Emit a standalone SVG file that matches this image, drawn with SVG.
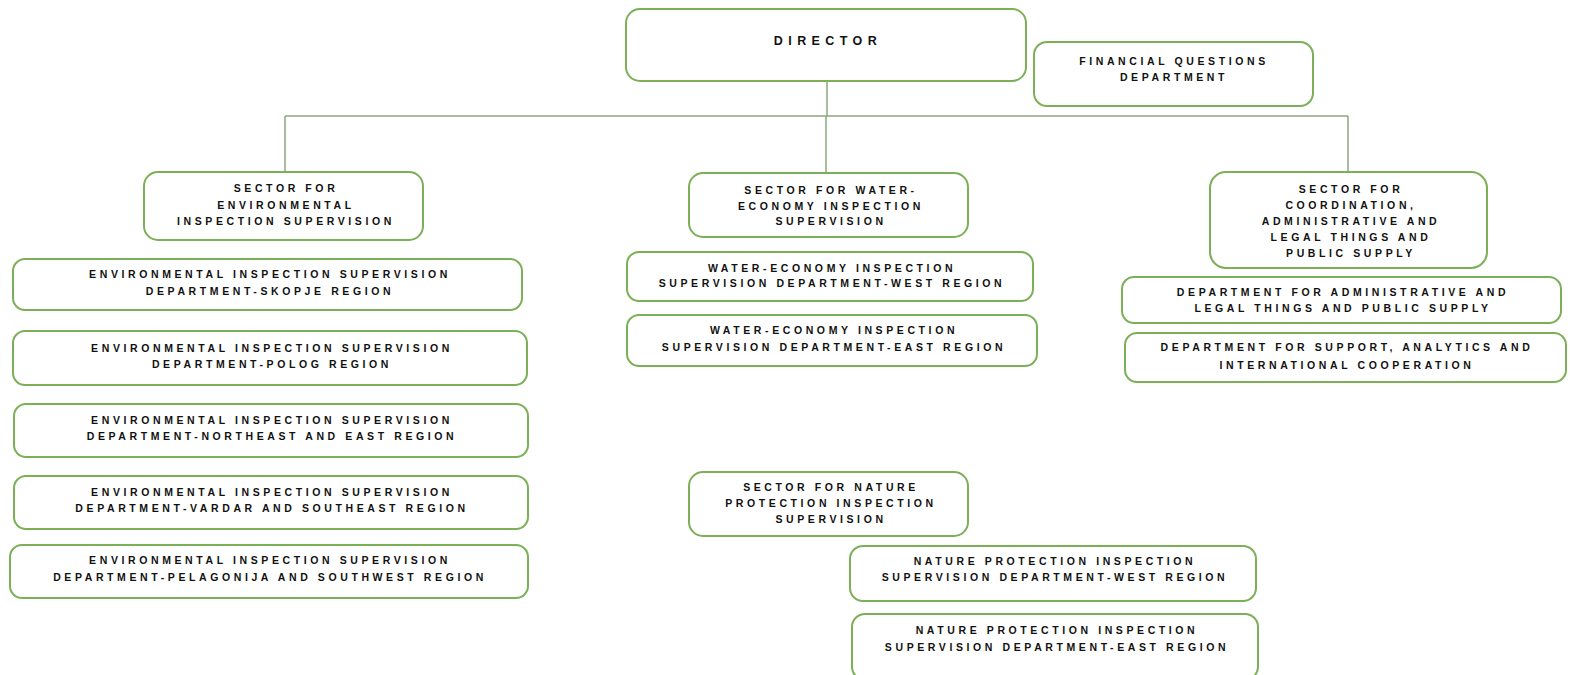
<svg xmlns="http://www.w3.org/2000/svg" width="1570" height="675" viewBox="0 0 1570 675">
<style>
.box{fill:#ffffff;stroke:#7BB057;stroke-width:2}
.t{font-family:"Liberation Sans",Arial,sans-serif;font-weight:bold;font-size:10.5px;letter-spacing:3.6px;fill:#111111;text-anchor:middle}
.big{font-size:12.5px;letter-spacing:5.4px}
.conn{fill:none;stroke:#8AA87E;stroke-width:1.5}
</style>
<rect width="1570" height="675" fill="#ffffff"/>
<g id="connectors">
<path class="conn" d="M827 81V116M285 116H1348M285 116V172M826 116V173M1348 116V172"/>
</g>
<g id="director">
<rect class="box" x="626" y="9" width="400" height="72" rx="14"/>
<text class="t big" x="828" y="44.5">DIRECTOR</text>
</g>
<g id="financial">
<rect class="box" x="1034" y="42" width="279" height="64" rx="13"/>
<text class="t" x="1174" y="65">FINANCIAL QUESTIONS</text>
<text class="t" x="1174" y="81">DEPARTMENT</text>
</g>
<g id="sector-env">
<rect class="box" x="144" y="172" width="279" height="68" rx="14"/>
<text class="t" x="286" y="192">SECTOR FOR</text>
<text class="t" x="286" y="208.5">ENVIRONMENTAL</text>
<text class="t" x="286" y="225">INSPECTION SUPERVISION</text>
</g>
<g id="sector-water">
<rect class="box" x="689" y="173" width="279" height="64" rx="14"/>
<text class="t" x="831" y="194">SECTOR FOR WATER-</text>
<text class="t" x="831" y="210">ECONOMY INSPECTION</text>
<text class="t" x="831" y="225">SUPERVISION</text>
</g>
<g id="sector-coord">
<rect class="box" x="1210" y="172" width="277" height="96" rx="16"/>
<text class="t" x="1351" y="193">SECTOR FOR</text>
<text class="t" x="1351" y="209">COORDINATION,</text>
<text class="t" x="1351" y="225">ADMINISTRATIVE AND</text>
<text class="t" x="1351" y="241">LEGAL THINGS AND</text>
<text class="t" x="1351" y="257">PUBLIC SUPPLY</text>
</g>
<g id="env-skopje">
<rect class="box" x="13" y="259" width="509" height="51" rx="12"/>
<text class="t" x="270" y="278">ENVIRONMENTAL INSPECTION SUPERVISION</text>
<text class="t" x="270" y="295">DEPARTMENT-SKOPJE REGION</text>
</g>
<g id="env-polog">
<rect class="box" x="13" y="331" width="514" height="54" rx="12"/>
<text class="t" x="272" y="352">ENVIRONMENTAL INSPECTION SUPERVISION</text>
<text class="t" x="272" y="368">DEPARTMENT-POLOG REGION</text>
</g>
<g id="env-northeast">
<rect class="box" x="14" y="404" width="514" height="53" rx="12"/>
<text class="t" x="272" y="424">ENVIRONMENTAL INSPECTION SUPERVISION</text>
<text class="t" x="272" y="440">DEPARTMENT-NORTHEAST AND EAST REGION</text>
</g>
<g id="env-vardar">
<rect class="box" x="14" y="476" width="514" height="53" rx="12"/>
<text class="t" x="272" y="496">ENVIRONMENTAL INSPECTION SUPERVISION</text>
<text class="t" x="272" y="512">DEPARTMENT-VARDAR AND SOUTHEAST REGION</text>
</g>
<g id="env-pelagonija">
<rect class="box" x="10" y="545" width="518" height="53" rx="12"/>
<text class="t" x="270" y="564">ENVIRONMENTAL INSPECTION SUPERVISION</text>
<text class="t" x="270" y="581">DEPARTMENT-PELAGONIJA AND SOUTHWEST REGION</text>
</g>
<g id="water-west">
<rect class="box" x="627" y="252" width="406" height="49" rx="12"/>
<text class="t" x="832" y="272">WATER-ECONOMY INSPECTION</text>
<text class="t" x="832" y="287">SUPERVISION DEPARTMENT-WEST REGION</text>
</g>
<g id="water-east">
<rect class="box" x="627" y="315" width="410" height="51" rx="12"/>
<text class="t" x="834" y="334">WATER-ECONOMY INSPECTION</text>
<text class="t" x="834" y="351">SUPERVISION DEPARTMENT-EAST REGION</text>
</g>
<g id="coord-admin">
<rect class="box" x="1122" y="277" width="439" height="46" rx="12"/>
<text class="t" x="1343" y="296">DEPARTMENT FOR ADMINISTRATIVE AND</text>
<text class="t" x="1343" y="312">LEGAL THINGS AND PUBLIC SUPPLY</text>
</g>
<g id="coord-support">
<rect class="box" x="1125" y="333" width="441" height="49" rx="12"/>
<text class="t" x="1347" y="351">DEPARTMENT FOR SUPPORT, ANALYTICS AND</text>
<text class="t" x="1347" y="369">INTERNATIONAL COOPERATION</text>
</g>
<g id="sector-nature">
<rect class="box" x="689" y="472" width="279" height="64" rx="14"/>
<text class="t" x="831" y="491">SECTOR FOR NATURE</text>
<text class="t" x="831" y="507">PROTECTION INSPECTION</text>
<text class="t" x="831" y="523">SUPERVISION</text>
</g>
<g id="nature-west">
<rect class="box" x="850" y="546" width="406" height="55" rx="13"/>
<text class="t" x="1055" y="565">NATURE PROTECTION INSPECTION</text>
<text class="t" x="1055" y="581">SUPERVISION DEPARTMENT-WEST REGION</text>
</g>
<g id="nature-east">
<rect class="box" x="852" y="614" width="406" height="66" rx="13"/>
<text class="t" x="1057" y="634">NATURE PROTECTION INSPECTION</text>
<text class="t" x="1057" y="651">SUPERVISION DEPARTMENT-EAST REGION</text>
</g>
</svg>
